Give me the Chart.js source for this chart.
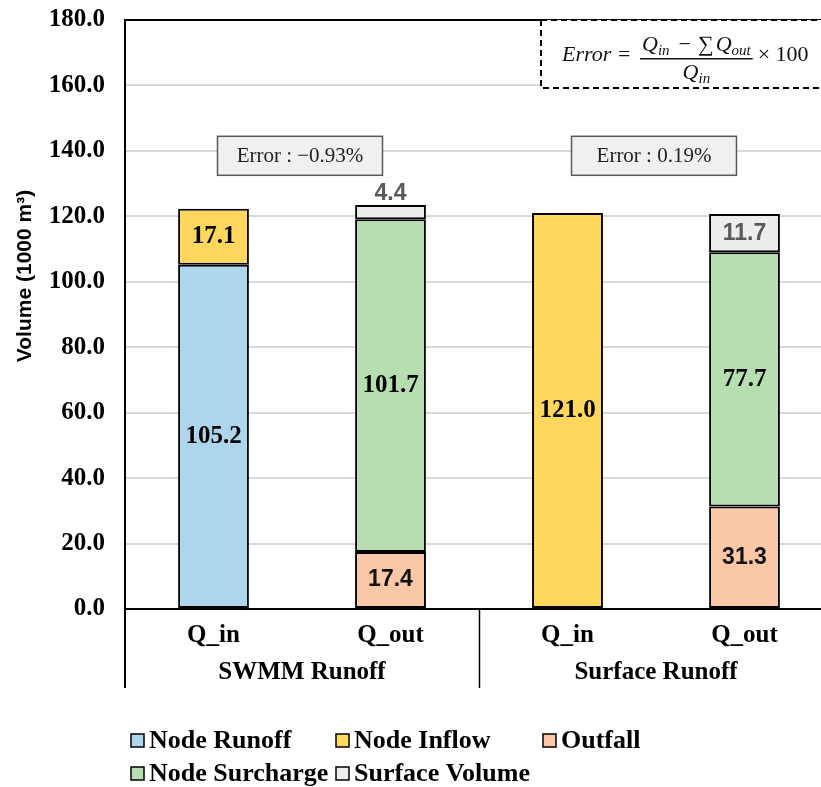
<!DOCTYPE html>
<html lang="en">
<head>
<meta charset="UTF-8">
<title>Volume chart</title>
<style>
  html, body { margin: 0; padding: 0; overflow: hidden; background: #fff; }
  #wrap { width: 840px; height: 787px; }
</style>
</head>
<body>
<div id="wrap"><canvas id="volChart" width="840" height="787"></canvas></div>

<script src="https://cdn.jsdelivr.net/npm/chart.js"></script>
<script>
// categories and groups
const categories = ['Q_in', 'Q_out', 'Q_in', 'Q_out'];
const groups = ['SWMM Runoff', 'Surface Runoff'];

// series values (1000 m3)
const nodeRunoff    = [105.2, null, null, null];
const nodeInflow    = [17.1, null, 121.0, null];
const outfall       = [null, 17.4, null, 31.3];
const nodeSurcharge = [null, 101.7, null, 77.7];
const surfaceVolume = [null, 4.4, null, 11.7];

// error notes per group, and the y value where they sit
const errorLabels = ['Error : \u22120.93%', 'Error : 0.19%'];
const errorLevel = 138.5;

// y axis
const yMin = 0, yMax = 180, yStep = 20;
const yTitle = 'Volume (1000 m\u00B3)';

const SERIF = '"Liberation Serif", "Times New Roman", serif';
const SANS = '"Liberation Sans", Arial, sans-serif';

function ds(label, data, color, labelFont, labelColor) {
  return {
    label: label,
    data: data,
    backgroundColor: color,
    borderColor: '#000',
    borderWidth: 2,
    borderSkipped: false,
    barPercentage: 0.4,
    categoryPercentage: 1.0,
    valueFont: labelFont,
    valueColor: labelColor
  };
}

const datasets = [
  ds('Node Runoff', nodeRunoff, '#ADD5EB', 'bold 25px ' + SERIF, '#000'),
  ds('Node Inflow', nodeInflow, '#FFD75C', 'bold 25px ' + SERIF, '#000'),
  ds('Outfall', outfall, '#FBC8A7', 'bold 23px ' + SANS, '#111'),
  ds('Node Surcharge', nodeSurcharge, '#B6DEB1', 'bold 25px ' + SERIF, '#000'),
  ds('Surface Volume', surfaceVolume, '#EDEDED', 'bold 23px ' + SANS, '#595959')
];

// value labels inside each segment ("above" for very short ones)
const valueLabels = {
  id: 'valueLabels',
  afterDatasetsDraw(chart) {
    const ctx = chart.ctx;
    ctx.save();
    ctx.textAlign = 'center';
    ctx.textBaseline = 'middle';
    chart.data.datasets.forEach((d, i) => {
      const meta = chart.getDatasetMeta(i);
      meta.data.forEach((bar, j) => {
        const v = d.data[j];
        if (v === null || v === undefined) return;
        const top = Math.min(bar.y, bar.base), bot = Math.max(bar.y, bar.base);
        let y = (top + bot) / 2;
        if (bot - top < 24) y = top - 11;
        ctx.font = d.valueFont;
        ctx.fillStyle = d.valueColor;
        ctx.fillText(v.toFixed(1), bar.x, y);
      });
    });
    ctx.restore();
  }
};

function subText(ctx, base, sub, x, y, size) {
  ctx.font = 'italic ' + size + 'px ' + SERIF;
  ctx.fillText(base, x, y);
  const w1 = ctx.measureText(base).width;
  ctx.font = 'italic ' + Math.round(size * 0.7) + 'px ' + SERIF;
  ctx.fillText(sub, x + w1, y + 4);
  return w1 + ctx.measureText(sub).width;
}
function subWidth(ctx, base, sub, size) {
  ctx.font = 'italic ' + size + 'px ' + SERIF;
  const w1 = ctx.measureText(base).width;
  ctx.font = 'italic ' + Math.round(size * 0.7) + 'px ' + SERIF;
  return w1 + ctx.measureText(sub).width;
}

const decorations = {
  id: 'decorations',
  afterDraw(chart) {
    const ctx = chart.ctx;
    const area = chart.chartArea;
    const xs = chart.scales.x, ys = chart.scales.y;
    const n = categories.length;
    const step = (area.right - area.left) / n;
    ctx.save();

    // y axis title
    ctx.save();
    ctx.translate(25, 276);
    ctx.rotate(-Math.PI / 2);
    ctx.fillStyle = '#000';
    ctx.font = 'bold 21px ' + SANS;
    ctx.textAlign = 'center';
    ctx.textBaseline = 'middle';
    ctx.fillText(yTitle, 0, 0);
    ctx.restore();

    // top border of plot
    ctx.strokeStyle = '#000';
    ctx.lineWidth = 2;
    ctx.beginPath();
    ctx.moveTo(area.left - 1, area.top);
    ctx.lineTo(area.right, area.top);
    ctx.stroke();

    // group separators below the axis
    const sepBottom = area.bottom + 79;
    for (let g = 0; g <= groups.length; g++) {
      const x = Math.round(area.left + g * step * 2) + (g === 0 ? 0 : 0.5);
      ctx.lineWidth = g === 0 ? 2 : 1.5;
      ctx.beginPath();
      ctx.moveTo(x, area.bottom);
      ctx.lineTo(x, sepBottom);
      ctx.stroke();
    }

    // group labels
    ctx.fillStyle = '#000';
    ctx.font = 'bold 25px ' + SERIF;
    ctx.textAlign = 'center';
    ctx.textBaseline = 'middle';
    groups.forEach((g, i) => {
      const cx = (xs.getPixelForValue(i * 2) + xs.getPixelForValue(i * 2 + 1)) / 2;
      ctx.fillText(g, cx, area.bottom + 64);
    });

    // error boxes
    errorLabels.forEach((t, i) => {
      const cx = (xs.getPixelForValue(i * 2) + xs.getPixelForValue(i * 2 + 1)) / 2 - 2;
      const cy = ys.getPixelForValue(errorLevel);
      const w = 165, h = 39;
      ctx.fillStyle = '#F0F0F0';
      ctx.fillRect(cx - w / 2, cy - h / 2, w, h);
      ctx.strokeStyle = '#595959';
      ctx.lineWidth = 1.5;
      ctx.strokeRect(cx - w / 2, cy - h / 2, w, h);
      ctx.fillStyle = '#222';
      ctx.font = '21px ' + SERIF;
      ctx.fillText(t, cx, cy + 1);
    });

    // formula box (dashed)
    const bx = 541, by = area.top, bw = 320, bh = 68;
    ctx.fillStyle = '#fff';
    ctx.fillRect(bx, by, bw, bh);
    ctx.setLineDash([6, 4]);
    ctx.strokeStyle = '#000';
    ctx.lineWidth = 2;
    ctx.strokeRect(bx, by, bw, bh);
    ctx.setLineDash([]);

    ctx.fillStyle = '#111';
    ctx.textAlign = 'left';
    ctx.textBaseline = 'alphabetic';
    const fs = 22;
    const midY = by + 41;
    ctx.font = 'italic ' + fs + 'px ' + SERIF;
    ctx.fillText('Error', 562, midY);
    ctx.font = fs + 'px ' + SERIF;
    ctx.fillText('=', 618, midY);
    // numerator
    const numY = by + 31;
    let x = 642;
    x += subText(ctx, 'Q', 'in', x, numY, fs);
    ctx.font = fs + 'px ' + SERIF;
    x += 9;
    ctx.fillText('\u2212', x, numY);
    x += ctx.measureText('\u2212').width + 7;
    ctx.fillText('\u2211', x, numY);
    x += ctx.measureText('\u2211').width + 2;
    x += subText(ctx, 'Q', 'out', x, numY, fs);
    const fracL = 640, fracR = Math.max(x + 2, 752);
    ctx.fillRect(fracL, by + 38, fracR - fracL, 1.5);
    // denominator
    const dw = subWidth(ctx, 'Q', 'in', fs);
    subText(ctx, 'Q', 'in', (fracL + fracR) / 2 - dw / 2, by + 59, fs);
    ctx.font = fs + 'px ' + SERIF;
    ctx.fillText('\u00D7 100', fracR + 5, midY);

    // legend
    const cols = [131, 336, 543], rows = [740, 773];
    ctx.textBaseline = 'middle';
    chart.data.datasets.forEach((d, i) => {
      const lx = cols[i % 3], ly = rows[Math.floor(i / 3)];
      ctx.fillStyle = d.backgroundColor;
      ctx.fillRect(lx, ly - 6, 13, 13);
      ctx.strokeStyle = '#000';
      ctx.lineWidth = 1.5;
      ctx.strokeRect(lx, ly - 6, 13, 13);
      ctx.fillStyle = '#000';
      ctx.font = 'bold 26px ' + SERIF;
      ctx.fillText(d.label, lx + 18, ly + 1);
    });

    ctx.restore();
  }
};

new Chart(document.getElementById('volChart').getContext('2d'), {
  type: 'bar',
  data: { labels: categories, datasets: datasets },
  options: {
    responsive: false,
    animation: false,
    layout: { padding: { left: 0, top: 20, right: 7, bottom: 98 } },
    plugins: {
      legend: { display: false },
      tooltip: { enabled: false }
    },
    scales: {
      x: {
        stacked: true,
        grid: { display: false, drawTicks: false },
        border: { display: true, color: '#000', width: 2 },
        ticks: { color: '#000', font: { family: SERIF, size: 25, weight: 'bold' }, padding: 12 },
        afterFit(scale) { scale.height = 80; }
      },
      y: {
        stacked: true,
        min: yMin,
        max: yMax,
        grid: { color: '#D9D9D9', lineWidth: 2, drawTicks: true, tickLength: 15, tickColor: 'rgba(0,0,0,0)' },
        border: { display: true, color: '#000', width: 2 },
        ticks: {
          stepSize: yStep,
          color: '#000',
          padding: 5,
          font: { family: SERIF, size: 25, weight: 'bold' },
          callback: v => Number(v).toFixed(1)
        },
        afterFit(scale) { scale.width = 125; }
      }
    }
  },
  plugins: [valueLabels, decorations]
});
</script>
</body>
</html>
